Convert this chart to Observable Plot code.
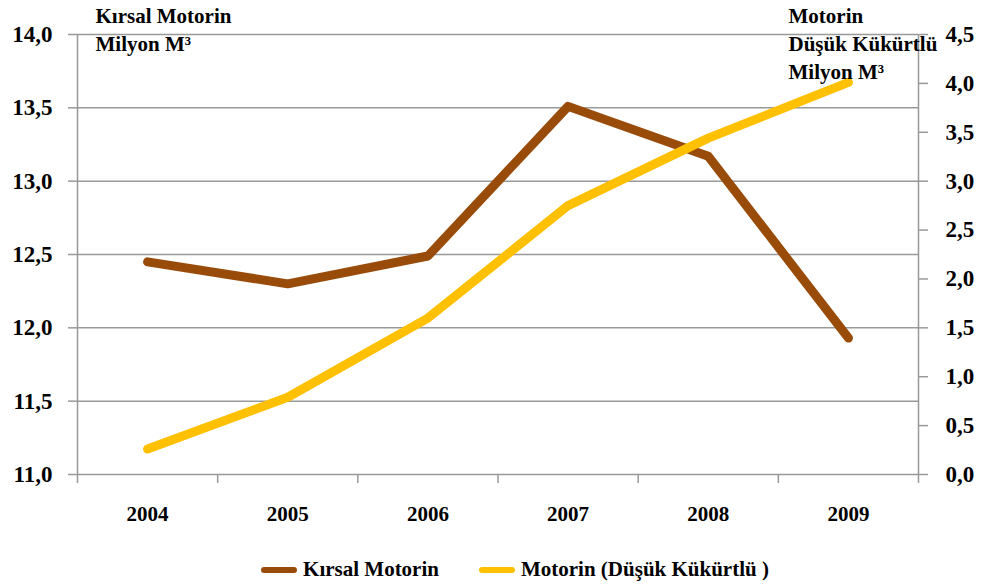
<!DOCTYPE html>
<html>
<head>
<meta charset="utf-8">
<script src="https://cdn.jsdelivr.net/npm/d3@7"></script>
<script src="https://cdn.jsdelivr.net/npm/@observablehq/plot@0.6"></script>
<style>
  body { margin: 0; background: #fff; font-family: "Liberation Serif", serif; }
  #legend { display: flex; justify-content: center; align-items: center; margin-top: 12px; padding-left: 43px; font-weight: bold; font-size: 21px; color: #000; }
  .item { display: flex; align-items: center; margin: 0 20px; }
  .sw { width: 36px; height: 6px; border-radius: 3px; margin-right: 6px; }
</style>
</head>
<body>
<div id="chart"></div>
<div id="legend"></div>
<script>
const years = [2004, 2005, 2006, 2007, 2008, 2009];
const kirsal = [12.45, 12.30, 12.49, 13.51, 13.17, 11.93];
const dusukKukurtlu = [0.26, 0.79, 1.60, 2.75, 3.44, 4.01];
const leftTicks = [11.0, 11.5, 12.0, 12.5, 13.0, 13.5, 14.0];
const rightTicks = [0, 0.5, 1, 1.5, 2, 2.5, 3, 3.5, 4, 4.5];
const seriesNames = ["Kırsal Motorin", "Motorin (Düşük Kükürtlü )"];
const colors = ["#994C09", "#FFC000"];
const leftTitle = "Kırsal Motorin\nMilyon M³";
const rightTitle = "Motorin\nDüşük Kükürtlü\nMilyon M³";

const toLeft = v => 11 + v * (3 / 4.5);
const fromLeft = v => (v - 11) * 1.5;
const fmt = v => d3.format(".1f")(v).replace(".", ",");

const dataK = years.map((y, i) => ({year: y, value: kirsal[i]}));
const dataD = years.map((y, i) => ({year: y, value: dusukKukurtlu[i]}));
const bounds = d3.range(years.length + 1).map(i => years[0] - 0.5 + i);

const chart = Plot.plot({
  width: 987,
  height: 545,
  marginLeft: 77,
  marginRight: 69,
  marginTop: 34,
  marginBottom: 71,
  style: {fontFamily: "Liberation Serif", fontWeight: "bold", color: "#000", background: "#fff"},
  x: {domain: [years[0] - 0.5, years[years.length - 1] + 0.5]},
  y: {domain: [11, 14]},
  marks: [
    Plot.gridY(leftTicks, {stroke: "#999", strokeOpacity: 1, strokeWidth: 1.5}),
    Plot.ruleX([bounds[0], bounds[bounds.length - 1]], {stroke: "#999", strokeWidth: 1.5}),
    Plot.axisY(leftTicks, {anchor: "left", tickSize: 9, tickPadding: 16, stroke: "#999", strokeWidth: 1.5, tickFormat: fmt, fontSize: 23, label: null}),
    Plot.axisY(rightTicks.map(toLeft), {anchor: "right", tickSize: 9, tickPadding: 18, stroke: "#999", strokeWidth: 1.5, tickFormat: d => fmt(fromLeft(d)), fontSize: 23, label: null}),
    Plot.axisX(bounds, {tickSize: 9, stroke: "#999", strokeWidth: 1.5, tickFormat: () => "", label: null}),
    Plot.axisX(years, {tickSize: 0, tickPadding: 32, tickFormat: d => String(d), fontSize: 21, label: null}),
    Plot.line(dataK, {x: "year", y: "value", stroke: colors[0], strokeWidth: 9, strokeLinecap: "round", strokeLinejoin: "round"}),
    Plot.line(dataD, {x: "year", y: d => toLeft(d.value), stroke: colors[1], strokeWidth: 9, strokeLinecap: "round", strokeLinejoin: "round"}),
    Plot.text([leftTitle], {frameAnchor: "top-left", textAnchor: "start", lineAnchor: "top", dx: 18, dy: -31, fontSize: 21, lineHeight: 1.33, fill: "#000"}),
    Plot.text([rightTitle], {frameAnchor: "top-right", textAnchor: "start", lineAnchor: "top", dx: -130, dy: -31, fontSize: 21, lineHeight: 1.33, fill: "#000"})
  ]
});
document.getElementById("chart").appendChild(chart);

const legend = document.getElementById("legend");
seriesNames.forEach((name, i) => {
  const item = document.createElement("div");
  item.className = "item";
  const sw = document.createElement("div");
  sw.className = "sw";
  sw.style.background = colors[i];
  const t = document.createElement("span");
  t.textContent = name;
  item.appendChild(sw);
  item.appendChild(t);
  legend.appendChild(item);
});
</script>
</body>
</html>
